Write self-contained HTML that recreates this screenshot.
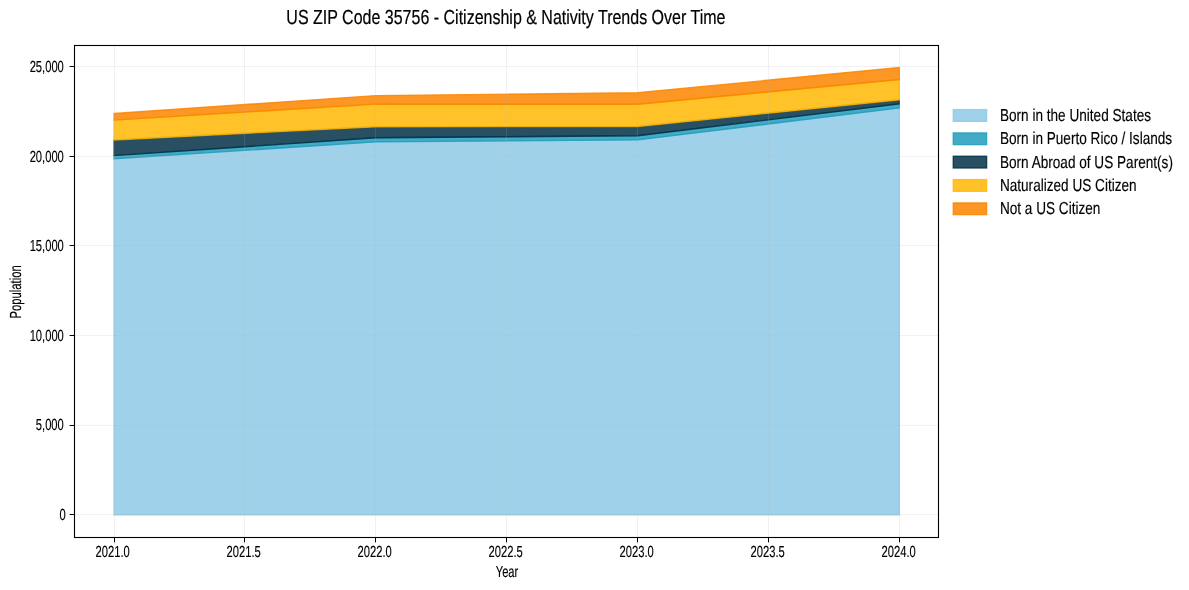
<!DOCTYPE html>
<html lang="en"><head><meta charset="utf-8"><title>US ZIP Code 35756 - Citizenship &amp; Nativity Trends Over Time</title>
<style>
html,body{margin:0;padding:0;background:#fff;}
body{width:1189px;height:590px;overflow:hidden;}
svg{display:block;}
text{font-family:"Liberation Sans", sans-serif;fill:#000;text-rendering:geometricPrecision;}
</style></head><body>
<svg width="1189" height="590" viewBox="0 0 1189 590">
<rect x="0" y="0" width="1189" height="590" fill="#ffffff"/>
<polygon points="114.1,158.7 375.85,141.9 637.6,139.9 899.3,107.9 899.3,514.8 637.6,514.8 375.85,514.8 114.1,514.8" fill="#8ecae6" fill-opacity="0.85" stroke="#8ecae6" stroke-opacity="0.85" stroke-width="1.39" stroke-linejoin="miter"/>
<polygon points="114.1,155.6 375.85,137.8 637.6,135.7 899.3,103.9 899.3,107.9 637.6,139.9 375.85,141.9 114.1,158.7" fill="#219ebc" fill-opacity="0.85" stroke="#219ebc" stroke-opacity="0.85" stroke-width="1.39" stroke-linejoin="miter"/>
<polygon points="114.1,139.9 375.85,126.7 637.6,126.5 899.3,99.8 899.3,103.9 637.6,135.7 375.85,137.8 114.1,155.6" fill="#023047" fill-opacity="0.85" stroke="#023047" stroke-opacity="0.85" stroke-width="1.39" stroke-linejoin="miter"/>
<polygon points="114.1,120.1 375.85,104.1 637.6,104.3 899.3,79.5 899.3,99.8 637.6,126.5 375.85,126.7 114.1,139.9" fill="#ffb703" fill-opacity="0.85" stroke="#ffb703" stroke-opacity="0.85" stroke-width="1.39" stroke-linejoin="miter"/>
<polygon points="114.1,113.5 375.85,95.6 637.6,92.8 899.3,67.6 899.3,79.5 637.6,104.3 375.85,104.1 114.1,120.1" fill="#fb8500" fill-opacity="0.85" stroke="#fb8500" stroke-opacity="0.85" stroke-width="1.39" stroke-linejoin="miter"/>
<g stroke="#b0b0b0" stroke-opacity="0.18" stroke-width="1">
<line x1="114.50" y1="45.5" x2="114.50" y2="537.5"/>
<line x1="244.50" y1="45.5" x2="244.50" y2="537.5"/>
<line x1="375.50" y1="45.5" x2="375.50" y2="537.5"/>
<line x1="506.50" y1="45.5" x2="506.50" y2="537.5"/>
<line x1="637.50" y1="45.5" x2="637.50" y2="537.5"/>
<line x1="768.50" y1="45.5" x2="768.50" y2="537.5"/>
<line x1="899.50" y1="45.5" x2="899.50" y2="537.5"/>
<line x1="74.5" y1="514.50" x2="938.5" y2="514.50"/>
<line x1="74.5" y1="425.50" x2="938.5" y2="425.50"/>
<line x1="74.5" y1="335.50" x2="938.5" y2="335.50"/>
<line x1="74.5" y1="245.50" x2="938.5" y2="245.50"/>
<line x1="74.5" y1="156.50" x2="938.5" y2="156.50"/>
<line x1="74.5" y1="66.50" x2="938.5" y2="66.50"/>
</g>
<rect x="74.5" y="45.5" width="864.0" height="492.0" fill="none" stroke="#000" stroke-width="1.1"/>
<g stroke="#000" stroke-width="1">
<line x1="114.50" y1="537.5" x2="114.50" y2="542.4"/>
<line x1="244.50" y1="537.5" x2="244.50" y2="542.4"/>
<line x1="375.50" y1="537.5" x2="375.50" y2="542.4"/>
<line x1="506.50" y1="537.5" x2="506.50" y2="542.4"/>
<line x1="637.50" y1="537.5" x2="637.50" y2="542.4"/>
<line x1="768.50" y1="537.5" x2="768.50" y2="542.4"/>
<line x1="899.50" y1="537.5" x2="899.50" y2="542.4"/>
<line x1="74.5" y1="514.50" x2="69.6" y2="514.50"/>
<line x1="74.5" y1="425.50" x2="69.6" y2="425.50"/>
<line x1="74.5" y1="335.50" x2="69.6" y2="335.50"/>
<line x1="74.5" y1="245.50" x2="69.6" y2="245.50"/>
<line x1="74.5" y1="156.50" x2="69.6" y2="156.50"/>
<line x1="74.5" y1="66.50" x2="69.6" y2="66.50"/>
</g>
<text transform="translate(112.7,557.0) scale(0.6979,1)" font-size="16.0" text-anchor="middle" stroke="#000" stroke-width="0.15">2021.0</text>
<text transform="translate(243.7,557.0) scale(0.6979,1)" font-size="16.0" text-anchor="middle" stroke="#000" stroke-width="0.15">2021.5</text>
<text transform="translate(374.7,557.0) scale(0.6979,1)" font-size="16.0" text-anchor="middle" stroke="#000" stroke-width="0.15">2022.0</text>
<text transform="translate(505.7,557.0) scale(0.6979,1)" font-size="16.0" text-anchor="middle" stroke="#000" stroke-width="0.15">2022.5</text>
<text transform="translate(636.7,557.0) scale(0.6979,1)" font-size="16.0" text-anchor="middle" stroke="#000" stroke-width="0.15">2023.0</text>
<text transform="translate(767.7,557.0) scale(0.6979,1)" font-size="16.0" text-anchor="middle" stroke="#000" stroke-width="0.15">2023.5</text>
<text transform="translate(898.7,557.0) scale(0.6979,1)" font-size="16.0" text-anchor="middle" stroke="#000" stroke-width="0.15">2024.0</text>
<text transform="translate(65.7,520) scale(0.6979,1)" font-size="16.0" text-anchor="end" stroke="#000" stroke-width="0.15">0</text>
<text transform="translate(63.8,430) scale(0.6979,1)" font-size="16.0" text-anchor="end" stroke="#000" stroke-width="0.15">5,000</text>
<text transform="translate(63.8,341) scale(0.6979,1)" font-size="16.0" text-anchor="end" stroke="#000" stroke-width="0.15">10,000</text>
<text transform="translate(63.8,251) scale(0.6979,1)" font-size="16.0" text-anchor="end" stroke="#000" stroke-width="0.15">15,000</text>
<text transform="translate(63.8,162) scale(0.6979,1)" font-size="16.0" text-anchor="end" stroke="#000" stroke-width="0.15">20,000</text>
<text transform="translate(63.8,72) scale(0.6979,1)" font-size="16.0" text-anchor="end" stroke="#000" stroke-width="0.15">25,000</text>
<text transform="translate(507.0,577.0) scale(0.6979,1)" font-size="16.0" text-anchor="middle" stroke="#000" stroke-width="0.15">Year</text>
<text transform="translate(21.15,291.9) rotate(-90) scale(0.7048789999999999,1)" font-size="16.0" text-anchor="middle" stroke="#000" stroke-width="0.15">Population</text>
<text transform="translate(505.9,23.85) scale(0.789,1)" font-size="20.3" text-anchor="middle" stroke="#000" stroke-width="0.2">US ZIP Code 35756 - Citizenship &amp; Nativity Trends Over Time</text>
<rect x="953.3" y="109.62" width="33.3" height="11.67" fill="#8ecae6" fill-opacity="0.85" stroke="#8ecae6" stroke-opacity="0.85" stroke-width="1.39"/>
<text transform="translate(999.9,120.95) scale(0.7865,1)" font-size="17.3" text-anchor="start" stroke="#000" stroke-width="0.15">Born in the United States</text>
<rect x="953.3" y="132.95" width="33.3" height="11.67" fill="#219ebc" fill-opacity="0.85" stroke="#219ebc" stroke-opacity="0.85" stroke-width="1.39"/>
<text transform="translate(999.9,143.95) scale(0.7865,1)" font-size="17.3" text-anchor="start" stroke="#000" stroke-width="0.15">Born in Puerto Rico / Islands</text>
<rect x="953.3" y="156.28" width="33.3" height="11.67" fill="#023047" fill-opacity="0.85" stroke="#023047" stroke-opacity="0.85" stroke-width="1.39"/>
<text transform="translate(999.9,167.95) scale(0.7865,1)" font-size="17.3" text-anchor="start" stroke="#000" stroke-width="0.15">Born Abroad of US Parent(s)</text>
<rect x="953.3" y="179.61" width="33.3" height="11.67" fill="#ffb703" fill-opacity="0.85" stroke="#ffb703" stroke-opacity="0.85" stroke-width="1.39"/>
<text transform="translate(999.9,190.95) scale(0.7865,1)" font-size="17.3" text-anchor="start" stroke="#000" stroke-width="0.15">Naturalized US Citizen</text>
<rect x="953.3" y="202.94" width="33.3" height="11.67" fill="#fb8500" fill-opacity="0.85" stroke="#fb8500" stroke-opacity="0.85" stroke-width="1.39"/>
<text transform="translate(999.9,213.95) scale(0.7865,1)" font-size="17.3" text-anchor="start" stroke="#000" stroke-width="0.15">Not a US Citizen</text>
</svg>
</body></html>
